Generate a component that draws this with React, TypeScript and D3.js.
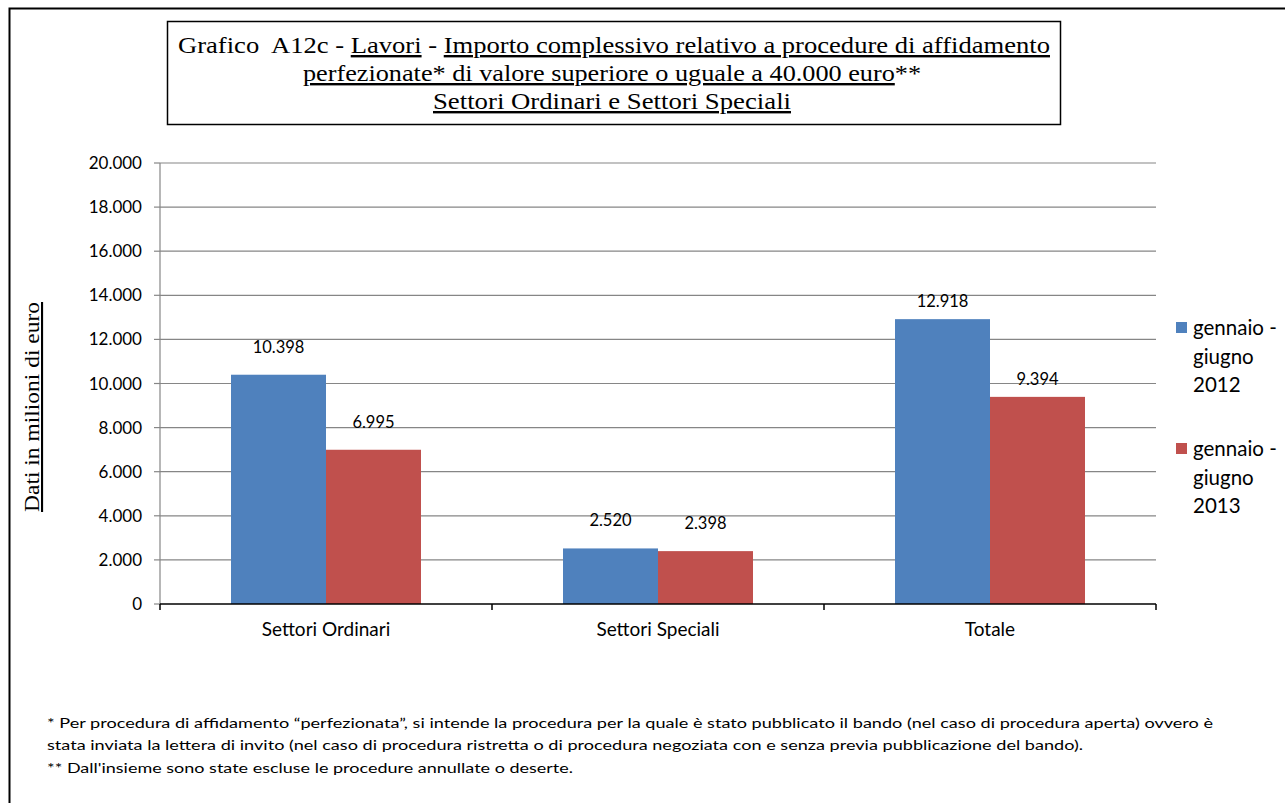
import React from "react";
import * as d3 from "d3";

const categories = ["Settori Ordinari", "Settori Speciali", "Totale"];
const seriesNames = ["gennaio - giugno 2012", "gennaio - giugno 2013"];
const values2012 = [10398, 2520, 12918];
const values2013 = [6995, 2398, 9394];
const yTicks = [0, 2000, 4000, 6000, 8000, 10000, 12000, 14000, 16000, 18000, 20000];
const labelOffsets = [22, 22, 12];
const colors = ["#4F81BD", "#C0504D"];

const fmt = (v: number) => d3.format(",")(v).replace(/,/g, ".");

export default function App() {
  const W = 1285, H = 803;
  const left = 160, right = 1156, top = 163, bottom = 604;
  const x = d3.scaleBand<string>().domain(categories).range([left, right]).padding(0);
  const inner = d3.scaleBand<number>().domain([0, 1]).range([0, x.bandwidth()]).paddingInner(0).paddingOuter(0.7475);
  const y = d3.scaleLinear().domain([0, 20000]).range([bottom, top]);
  const series = [values2012, values2013];
  const sans = "Lato, 'Open Sans', sans-serif";
  const serif = "'Liberation Serif', 'Times New Roman', serif";

  return (
    <svg width={W} height={H} style={{ position: "absolute", left: 0, top: 0, background: "#fff" }}>
      <rect x={0} y={0} width={W} height={H} fill="#fff" />
      {/* outer frame */}
      <rect x={9.5} y={8.5} width={W + 20} height={H + 20} fill="none" stroke="#000" strokeWidth={2} />
      {/* title box */}
      <rect x={167.5} y={21.5} width={893} height={103} fill="#fff" stroke="#000" strokeWidth={1.5} />
      <g fontFamily={serif} fontSize={24} fill="#000" textAnchor="middle">
        <text x={614} y={53} textLength={872} lengthAdjust="spacingAndGlyphs">
          <tspan>{"Grafico\u00A0 A12c - "}</tspan>
          <tspan textDecoration="underline">Lavori</tspan>
          <tspan> - </tspan>
          <tspan textDecoration="underline">Importo complessivo relativo a procedure di affidamento</tspan>
        </text>
        <text x={612} y={81} textLength={618} lengthAdjust="spacingAndGlyphs">
          <tspan textDecoration="underline">perfezionate* di valore superiore o uguale a 40.000 euro</tspan>
          <tspan>**</tspan>
        </text>
        <text x={612} y={109} textLength={358} lengthAdjust="spacingAndGlyphs">
          <tspan textDecoration="underline">Settori Ordinari e Settori Speciali</tspan>
        </text>
      </g>

      {/* gridlines */}
      {yTicks.map((t) => (
        <g key={t}>
          {t > 0 && <line x1={left} x2={right} y1={y(t)} y2={y(t)} stroke="#868686" strokeWidth={1.2} />}
          <line x1={left - 6} x2={left} y1={y(t)} y2={y(t)} stroke="#868686" strokeWidth={1.2} />
          <text x={142} y={y(t) + 6} textAnchor="end" fontFamily={sans} fontSize={17} fill="#000">{fmt(t)}</text>
        </g>
      ))}
      <line x1={left} x2={left} y1={top} y2={bottom} stroke="#868686" strokeWidth={1.2} />

      {/* bars */}
      {categories.map((c, i) => (
        <g key={c}>
          {series.map((s, k) => {
            const bx = (x(c) as number) + (inner(k) as number);
            return (
              <g key={k}>
                <rect x={bx} y={y(s[i])} width={inner.bandwidth()} height={bottom - y(s[i])} fill={colors[k]} />
                <text x={bx + inner.bandwidth() / 2} y={y(s[i]) - labelOffsets[i]} textAnchor="middle" fontFamily={sans} fontSize={16.5} fill="#000">{fmt(s[i])}</text>
              </g>
            );
          })}
        </g>
      ))}

      {/* x axis */}
      <line x1={left} x2={right} y1={bottom} y2={bottom} stroke="#000" strokeWidth={1.5} />
      {[...categories.map((c) => x(c) as number), right].map((v, i) => (
        <line key={i} x1={v} x2={v} y1={bottom} y2={bottom + 6} stroke="#000" strokeWidth={1.5} />
      ))}
      {categories.map((c) => (
        <text key={c} x={(x(c) as number) + x.bandwidth() / 2} y={636} textAnchor="middle" fontFamily={sans} fontSize={19} fill="#000">{c}</text>
      ))}

      {/* y axis title */}
      <text transform="translate(39,407) rotate(-90)" textAnchor="middle" fontFamily={serif} fontSize={21} fill="#000" textDecoration="underline" textLength={210} lengthAdjust="spacingAndGlyphs">Dati in milioni di euro</text>

      {/* legend */}
      {seriesNames.map((name, k) => {
        const parts = ["gennaio -", "giugno", name.split(" ").pop() as string];
        const ly = 322 + k * 121;
        return (
          <g key={name}>
            <rect x={1176} y={ly} width={11} height={11} fill={colors[k]} />
            {parts.map((p, j) => (
              <text key={j} x={1193} y={ly + 13 + j * 28.5} fontFamily={sans} fontSize={20.5} fill="#000">{p}</text>
            ))}
          </g>
        );
      })}

      {/* footnotes */}
      <g fontFamily={sans} fontSize={13.5} fill="#000">
        <text x={47} y={728} textLength={1166} lengthAdjust="spacingAndGlyphs">* Per procedura di affidamento “perfezionata”, si intende la procedura per la quale è stato pubblicato il bando (nel caso di procedura aperta) ovvero è</text>
        <text x={47} y={750} textLength={1036} lengthAdjust="spacingAndGlyphs">stata inviata la lettera di invito (nel caso di procedura ristretta o di procedura negoziata con e senza previa pubblicazione del bando).</text>
        <text x={47} y={773} textLength={526} lengthAdjust="spacingAndGlyphs">** Dall'insieme sono state escluse le procedure annullate o deserte.</text>
      </g>
    </svg>
  );
}
